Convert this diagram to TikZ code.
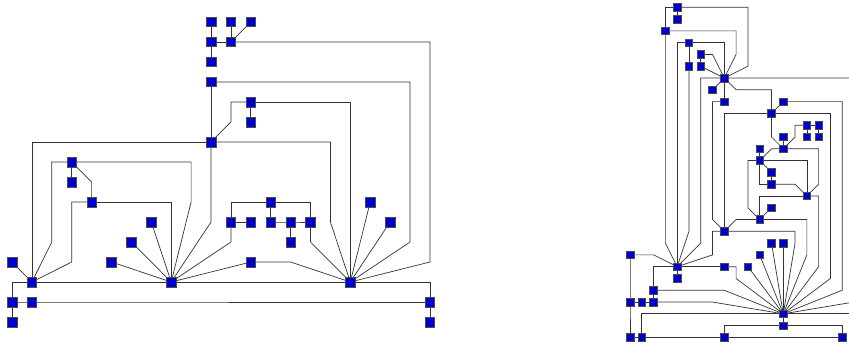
\documentclass[tikz,border=0pt]{standalone}
\usetikzlibrary{backgrounds}
\definecolor{nodeblue}{RGB}{0,0,204}
\tikzset{
  vtx/.style={rectangle, draw=black!70, fill=nodeblue, line width=0.6pt, minimum size=#1, inner sep=0pt},
  bigvtx/.style={vtx=9.6pt},
  smallvtx/.style={vtx=7.6pt},
  link/.style={draw=black!80, line width=0.7pt},
}
\begin{document}
\begin{tikzpicture}[x=1pt,y=-1pt]
\useasboundingbox (0,0) rectangle (849,345);

% ---------------- left graph ----------------
\begin{scope}[shift={(12,22)}]
\begin{scope}[x=19.9pt,y=-20pt]
\foreach \k/\j in {10/0,11/0,12/0,10/1,11/1,10/2,10/3,12/4,12/5,10/6,3/7,3/8,4/9,
  7/10,6/11,5/12,0/12,1/13,8/13,17/13,0/14,1/14,21/14,0/15,21/15,13/9,11/10,12/10,
  13/10,14/10,15/10,14/11,12/12,18/9,19/10}
  \node[bigvtx] (a\k-\j) at (\k,\j) {};
\begin{pgfonlayer}{background}
\draw[link] (a10-0.center) -- (a10-1.center);
\draw[link] (a11-0.center) -- (a11-1.center);
\draw[link] (a12-0.center) -- (a11-1.center);
\draw[link] (a10-1.center) -- (a11-1.center);
\draw[link] (a10-1.center) -- (a10-2.center);
\draw[link] (a11-1.center) -- (21,1) -- (21,12) -- (a17-13.center);
\draw[link] (a10-3.center) -- (20,3) -- (20,11) -- (a17-13.center);
\draw[link] (a10-3.center) -- (a10-6.center);
\draw[link] (a10-6.center) -- (10,10) -- (a8-13.center);
\draw[link] (a10-6.center) -- (11,5) -- (11,4) -- (a12-4.center);
\draw[link] (a12-4.center) -- (a12-5.center);
\draw[link] (a12-4.center) -- (17,4) -- (a17-13.center);
\draw[link] (a10-6.center) -- (1,6) -- (a1-13.center);
\draw[link] (a10-6.center) -- (16,6) -- (16,10) -- (a17-13.center);
\draw[link] (a3-7.center) -- (2,7) -- (2,11) -- (a1-13.center);
\draw[link] (a3-7.center) -- (9,7) -- (9,9) -- (a8-13.center);
\draw[link] (a3-7.center) -- (a3-8.center);
\draw[link] (a3-7.center) -- (4,8) -- (a4-9.center);
\draw[link] (a4-9.center) -- (3,9) -- (3,12) -- (a1-13.center);
\draw[link] (a4-9.center) -- (8,9) -- (a8-13.center);
\draw[link] (a7-10.center) -- (a8-13.center);
\draw[link] (a6-11.center) -- (a8-13.center);
\draw[link] (a5-12.center) -- (a8-13.center);
\draw[link] (a12-12.center) -- (a8-13.center);
\draw[link] (a12-12.center) -- (14,12) -- (a17-13.center);
\draw[link] (a11-10.center) -- (11,11) -- (a8-13.center);
\draw[link] (a11-10.center) -- (a12-10.center);
\draw[link] (a11-10.center) -- (11,9) -- (a13-9.center);
\draw[link] (a13-9.center) -- (a13-10.center);
\draw[link] (a13-9.center) -- (15,9) -- (a15-10.center);
\draw[link] (a13-10.center) -- (a14-10.center) -- (a15-10.center);
\draw[link] (a14-10.center) -- (a14-11.center);
\draw[link] (a15-10.center) -- (15,11) -- (a17-13.center);
\draw[link] (a18-9.center) -- (a17-13.center);
\draw[link] (a19-10.center) -- (a17-13.center);
\draw[link] (a0-12.center) -- (a1-13.center);
\draw[link] (a0-14.center) -- (0,13) -- (21,13) -- (a21-14.center);
\draw[link] (a0-14.center) -- (a1-14.center) -- (a21-14.center);
\draw[link] (a0-14.center) -- (a0-15.center);
\draw[link] (a21-14.center) -- (a21-15.center);
\end{pgfonlayer}
\end{scope}
\end{scope}

% ---------------- right graph ----------------
\begin{scope}[shift={(630,7.3)}]
\begin{scope}[x=11.79pt,y=-11.79pt]
\foreach \k/\j in {4/0,4/1,3/2,5/3,5/5,6/4,6/5,8/6,7/7,8/8,13/8,12/9,15/10,16/10,
  13/11,15/11,16/11,13/12,11/12,11/13,12/14,12/15,15/16,12/17,11/18,8/19,12/20,
  13/20,11/21,0/21,4/22,8/22,10/22,4/23,2/24,0/25,1/25,2/25,13/26,13/27,0/28,
  1/28,8/28,18/28}
  \node[smallvtx] (b\k-\j) at (\k,\j) {};
\coordinate (farA) at (19.2,6);
\coordinate (farB) at (19.2,26);
\coordinate (farC) at (19,25);
\begin{pgfonlayer}{background}
\draw[link] (b4-0.center) -- (b4-1.center);
\draw[link] (b4-0.center) -- (3,0) -- (b3-2.center);
\draw[link] (b4-0.center) -- (10,0) -- (10,5) -- (b8-6.center);
\draw[link] (b3-2.center) -- (9,2) -- (9,4) -- (b8-6.center);
\draw[link] (b3-2.center) -- (3,20) -- (b4-22.center);
\draw[link] (b5-3.center) -- (4,3) -- (b4-22.center);
\draw[link] (b5-3.center) -- (8,3) -- (b8-6.center);
\draw[link] (b5-3.center) -- (b5-5.center);
\draw[link] (b5-5.center) -- (5,19) -- (b4-22.center);
\draw[link] (b6-4.center) -- (7,4) -- (b8-6.center);
\draw[link] (b6-4.center) -- (b6-5.center);
\draw[link] (b6-5.center) -- (b8-6.center);
\draw[link] (b7-7.center) -- (b8-6.center);
\draw[link] (b8-6.center) -- (b8-8.center);
\draw[link] (b8-6.center) -- (9,7) -- (12,7) -- (b12-9.center);
\draw[link] (farA) -- (6,6) -- (6,20) -- (b4-22.center);
\draw[link] (b8-8.center) -- (7,8) -- (7,18) -- (b8-19.center);
\draw[link] (b8-19.center) -- (7,19) -- (7,21) -- (b4-22.center);
\draw[link] (b12-9.center) -- (8,9) -- (b8-19.center);
\draw[link] (b12-9.center) -- (b13-8.center);
\draw[link] (b12-9.center) -- (17,9) -- (17,23) -- (b13-26.center);
\draw[link] (b13-8.center) -- (18,8) -- (18,24) -- (b13-26.center);
\draw[link] (b12-9.center) -- (12,11) -- (b13-12.center);
\draw[link] (b13-11.center) -- (b13-12.center);
\draw[link] (b15-10.center) -- (b16-10.center);
\draw[link] (b15-10.center) -- (b15-11.center);
\draw[link] (b16-10.center) -- (b16-11.center);
\draw[link] (b15-10.center) -- (14,10) -- (14,11) -- (b13-12.center);
\draw[link] (b13-12.center) -- (12,12) -- (b11-13.center);
\draw[link] (b13-12.center) -- (16,12) -- (16,15) -- (b15-16.center);
\draw[link] (b11-12.center) -- (b11-13.center);
\draw[link] (b11-13.center) -- (b12-14.center);
\draw[link] (b11-13.center) -- (15,13) -- (b15-16.center);
\draw[link] (b11-13.center) -- (10,13) -- (10,17) -- (b11-18.center);
\draw[link] (b11-13.center) -- (11,15) -- (b12-15.center);
\draw[link] (b12-14.center) -- (b12-15.center);
\draw[link] (b12-15.center) -- (14,15) -- (b15-16.center);
\draw[link] (b15-16.center) -- (11,16) -- (b11-18.center);
\draw[link] (b15-16.center) -- (16,16) -- (16,22) -- (b13-26.center);
\draw[link] (b12-17.center) -- (b11-18.center);
\draw[link] (b11-18.center) -- (15,18) -- (15,21) -- (b13-26.center);
\draw[link] (b11-18.center) -- (9,18) -- (b8-19.center);
\draw[link] (b8-19.center) -- (14,19) -- (14,20) -- (b13-26.center);
\draw[link] (b12-20.center) -- (b13-26.center);
\draw[link] (b13-20.center) -- (b13-26.center);
\draw[link] (b11-21.center) -- (b13-26.center);
\draw[link] (b10-22.center) -- (b13-26.center);
\draw[link] (b0-21.center) -- (2,21) -- (b4-22.center);
\draw[link] (b0-21.center) -- (b0-25.center) -- (b0-28.center);
\draw[link] (b4-22.center) -- (b4-23.center);
\draw[link] (b4-22.center) -- (2,22) -- (b2-24.center);
\draw[link] (b4-22.center) -- (b8-22.center);
\draw[link] (b8-22.center) -- (9,22) -- (9,23) -- (b13-26.center);
\draw[link] (b2-24.center) -- (b2-25.center);
\draw[link] (b2-24.center) -- (8,24) -- (b13-26.center);
\draw[link] (b2-25.center) -- (7,25) -- (b13-26.center);
\draw[link] (b0-25.center) -- (b1-25.center) -- (b2-25.center);
\draw[link] (b1-28.center) -- (1,26) -- (farB);
\draw[link] (b0-28.center) -- (b1-28.center) -- (b8-28.center) -- (b18-28.center);
\draw[link] (b8-28.center) -- (8,27) -- (18,27) -- (b18-28.center);
\draw[link] (b13-26.center) -- (b13-27.center);
\draw[link] (b13-26.center) -- (farC);
\end{pgfonlayer}
\end{scope}
\end{scope}
\end{tikzpicture}
\end{document}
